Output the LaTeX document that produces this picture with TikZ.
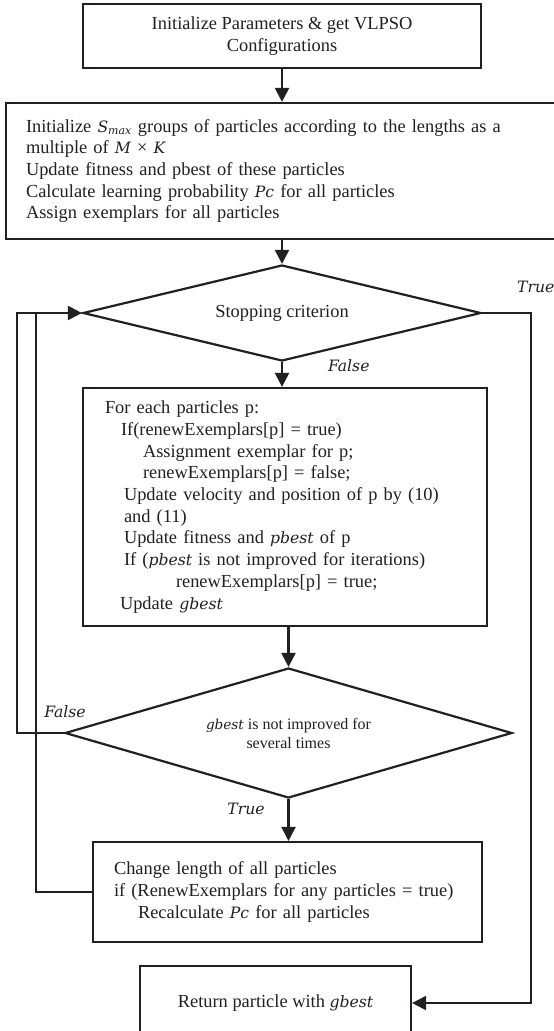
\documentclass[tikz,border=0pt]{standalone}
\usepackage{fontspec}
\setmainfont{Liberation Serif}
\newfontfamily\varfont[Scale=0.85]{DejaVu Serif}
\newcommand{\vv}[1]{{\varfont\itshape #1}}
\usetikzlibrary{arrows.meta, positioning, calc, shapes.geometric}
\definecolor{FlowInk}{HTML}{231F20}

\begin{document}
\begin{tikzpicture}[x=1pt, y=-1pt, >={Triangle[length=14pt,width=14pt]},
  line width=2.2pt, color=FlowInk,
  every node/.style={font=\fontsize{18.4}{21.7}\selectfont},
  procbox/.style={draw, rectangle, inner sep=0pt, align=left},
  decide/.style={draw, diamond, inner sep=0pt, align=center},
  tag/.style={inner sep=0pt}]
  \useasboundingbox (0,0) rectangle (554,1031);
  % boxes, top to bottom
  \node[procbox, align=center, minimum width=398pt, minimum height=64pt] (init) at (282,36)
    {Initialize Parameters \& get VLPSO\\Configurations};
  \node[procbox, text width=514pt, minimum width=554pt, minimum height=136pt] (groups) at (283,171)
    {Initialize \vv{S}\textsubscript{\vv{max}} groups of particles according to the lengths as a\\
     multiple of \vv{M} × \vv{K}\\
     Update fitness and pbest of these particles\\
     Calculate learning probability \vv{Pc} for all particles\\
     Assign exemplars for all particles};
  \node[decide, aspect=4.15, minimum width=398pt, minimum height=96pt] (stop) at (282,313) {Stopping criterion};
  \node[procbox, text width=360pt, minimum width=404pt, minimum height=238pt] (work) at (285,507)
    {For each particles p:\\
     \hspace*{16pt}If(renewExemplars[p] = true)\\
     \hspace*{38pt}Assignment exemplar for p;\\
     \hspace*{38pt}renewExemplars[p] = false;\\
     \hspace*{19pt}Update velocity and position of p by (10)\\
     \hspace*{19pt}and (11)\\
     \hspace*{19pt}Update fitness and \vv{pbest} of p\\
     \hspace*{19pt}If (\vv{pbest} is not improved for iterations)\\
     \hspace*{71pt}renewExemplars[p] = true;\\
     \hspace*{15pt}Update \vv{gbest}};
  \node[decide, aspect=3.44, minimum width=447pt, minimum height=130pt, font=\fontsize{16}{19}\selectfont] (stall) at (288.5,733)
    {\vv{gbest} is not improved for\\several times};
  \node[procbox, text width=347pt, minimum width=389pt, minimum height=100pt] (mutate) at (287.5,892)
    {Change length of all particles\\
     if (RenewExemplars for any particles = true)\\
     \hspace*{24pt}Recalculate \vv{Pc} for all particles};
  \node[procbox, align=center, minimum width=271pt, minimum height=74pt] (ret) at (275.5,1003)
    {Return particle with \vv{gbest}};
  % branch labels
  \node[tag, anchor=west] (ttop) at (516,287) {\vv{True}};
  \node[tag, anchor=west] (ftop) at (327,366) {\vv{False}};
  \node[tag] (fleft) at (65,712) {\vv{False}};
  \node[tag] (tmid) at (246,809) {\vv{True}};
  % rails
  \coordinate (railR) at (531,313);
  \coordinate (railL) at (17,733);
  \coordinate (railM) at (36,313);
  % connectors
  \draw[->] (init.south) -- (init.south |- groups.north);
  \draw[->] (stop.north |- groups.south) -- (stop.north);
  \draw[->] (stop.south) -- (stop.south |- work.north);
  \draw[->] (stall.north |- work.south) -- (stall.north);
  \draw[->] (stall.south) -- (stall.south |- mutate.north);
  \draw[->] (stop.east) -- (railR) |- (ret.east);
  \draw[->] (stall.west) -- (railL) |- (stop.west);
  \draw (mutate.west) -| (railM);
\end{tikzpicture}
\end{document}
